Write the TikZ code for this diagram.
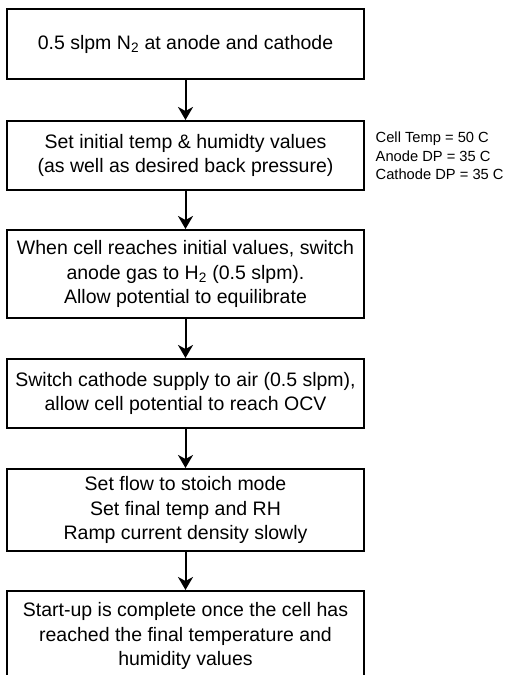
\documentclass[tikz,border=0pt]{standalone}
\usepackage{fontspec}
\setmainfont{Liberation Sans}
\usetikzlibrary{arrows.meta}
\begin{document}
\begin{tikzpicture}[x=1pt,y=-1pt,
  stepbox/.style={draw, line width=2pt, minimum width=357pt, align=center,
    font=\fontsize{19.5}{24.8}\selectfont, inner sep=0pt},
  flow/.style={line width=2pt, -{Stealth[length=13pt,width=15pt,inset=4pt]}},
  note/.style={align=left, font=\fontsize{14.7}{18.3}\selectfont, inner sep=0pt}]
\useasboundingbox (0,0) rectangle (504,675);
\clip (0,0) rectangle (504,675);
\node[stepbox, minimum height=70pt] (b1) at (185.5,44) {0.5 slpm N\textsubscript{2} at anode and cathode};
\node[stepbox, minimum height=69pt] (b2) at (185.5,155.5) {Set initial temp \& humidty values\\(as well as desired back pressure)};
\node[stepbox, minimum height=88pt] (b3) at (185.5,274) {When cell reaches initial values, switch\\anode gas to H\textsubscript{2} (0.5 slpm).\\Allow potential to equilibrate};
\node[stepbox, minimum height=69pt] (b4) at (185.5,393.5) {Switch cathode supply to air (0.5 slpm),\\allow cell potential to reach OCV};
\node[stepbox, minimum height=82pt] (b5) at (185.5,510) {Set flow to stoich mode\\Set final temp and RH\\Ramp current density slowly};
\node[stepbox, minimum height=90pt] (b6) at (185.5,636) {Start-up is complete once the cell has\\reached the final temperature and\\humidity values};
\node[note, anchor=west] (n1) at (375.5,156) {Cell Temp = 50 C\\Anode DP = 35 C\\Cathode DP = 35 C};
\draw[flow] (b1) -- (b2);
\draw[flow] (b2) -- (b3);
\draw[flow] (b3) -- (b4);
\draw[flow] (b4) -- (b5);
\draw[flow] (b5) -- (b6);
\end{tikzpicture}
\end{document}
